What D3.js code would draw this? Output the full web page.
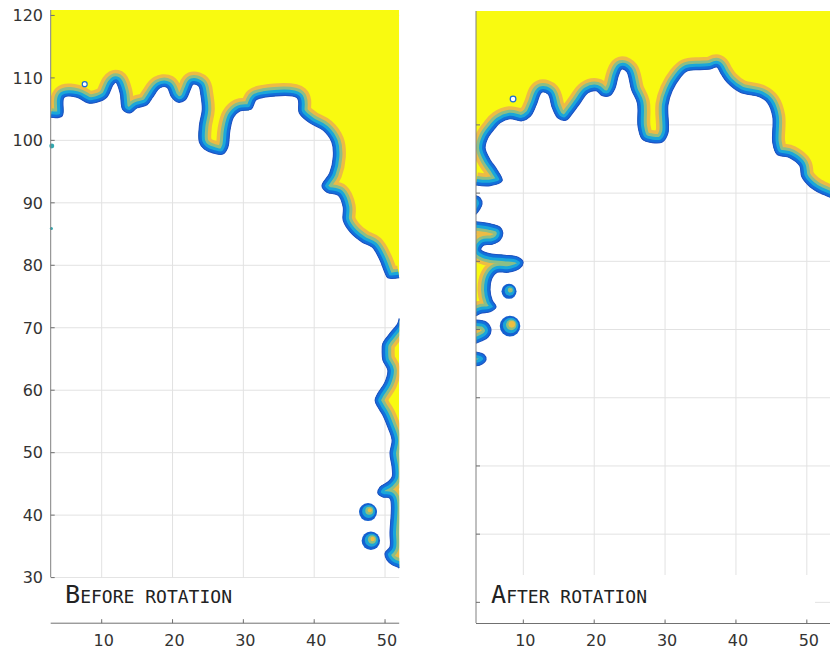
<!DOCTYPE html>
<html><head><meta charset="utf-8">
<script src="https://cdn.jsdelivr.net/npm/d3@7"></script>
<style>body{margin:0;background:#fff}svg{display:block}</style>
</head><body>
<svg id="c" width="830" height="649"></svg>
<script>
// ---------- data ----------
const xTicks = [10, 20, 30, 40, 50];
const leftYTicks = [30, 40, 50, 60, 70, 80, 90, 100, 110, 120];
const rightYTicks = [30, 40, 50, 60, 70, 80, 90, 100];
const panelLabels = ["Before rotation", "After rotation"];

// lower edge of the yellow region (left panel, before rotation)
const leftTop = [[2.8,103.7],[4.4,103.9],[4.7,106.9],[6.5,106.9],[8.1,106.0],[9.3,106.1],[10.7,106.9],[11.6,108.9],[12.0,109.3],[12.6,107.6],[13.0,104.9],[14.0,104.4],[15.0,105.2],[16.4,105.7],[17.2,106.9],[18.2,108.4],[19.2,108.5],[19.9,106.9],[20.8,106.1],[21.8,106.5],[22.5,108.1],[22.9,109.0],[23.7,108.7],[24.0,107.3],[24.2,104.9],[23.8,102.4],[23.8,99.7],[24.5,98.6],[25.7,98.0],[27.1,97.8],[27.8,98.9],[28.1,101.6],[28.6,103.7],[29.5,104.7],[31.1,105.0],[31.8,106.5],[32.9,106.9],[37.6,106.8],[37.9,104.4],[39.4,102.8],[41.3,101.6],[42.5,99.7],[42.7,97.4],[42.2,94.8],[41.1,92.7],[41.8,91.7],[43.4,91.2],[44.1,89.3],[44.1,87.2],[45.1,85.3],[46.8,83.7],[48.2,82.9],[49.3,80.8],[50.0,78.8],[50.4,78.0],[52.0,78.0]];
// strip on the right edge (left panel)
const leftSide = [[52.0,71.5],[51.8,70.7],[50.7,69.1],[49.7,67.5],[49.6,66.4],[49.7,64.8],[50.4,63.2],[50.0,61.3],[49.0,59.5],[48.6,58.4],[49.0,57.3],[49.7,56.0],[50.4,54.1],[51.0,52.0],[50.7,49.9],[51.0,47.7],[51.0,46.1],[50.4,45.3],[49.3,44.5],[49.0,43.5],[49.7,42.9],[50.7,42.7],[50.7,37.1],[50.7,34.9],[50.0,33.9],[50.3,32.8],[51.1,32.0],[51.8,31.7],[52.0,31.5]];
const leftDots = [[47.6,40.5,1.27],[48.0,35.9,1.3]];
const leftSpecks = [[2.95,99.1,0.35],[2.9,85.9,0.22]];
const leftHoles = [[7.6,109.0,0.35]];

// lower edge of the yellow region (right panel, after rotation)
const rightTop = [[3.32,91.2],[5.3,91.1],[7.0,91.8],[6.3,93.4],[5.3,94.9],[4.6,96.6],[5.0,98.1],[5.9,99.4],[6.7,100.3],[8.1,100.9],[9.8,100.6],[11.0,101.3],[11.8,102.9],[12.6,104.8],[13.5,104.5],[14.1,102.5],[14.9,101.0],[16.0,100.7],[17.0,101.8],[18.0,103.2],[19.1,104.7],[20.3,105.0],[21.1,104.3],[22.2,104.3],[22.9,105.3],[23.4,107.2],[23.9,108.2],[24.6,107.8],[25.3,105.1],[26.1,103.2],[26.2,99.7],[26.8,97.9],[28.2,97.4],[29.6,97.5],[30.4,98.8],[30.4,102.9],[31.0,105.0],[32.1,106.9],[33.1,107.9],[34.9,108.1],[36.4,108.2],[37.3,108.5],[37.9,107.5],[38.8,106.2],[40.6,104.8],[43.4,104.1],[44.5,103.2],[45.2,101.2],[45.2,97.4],[45.8,95.7],[47.6,95.2],[49.0,94.0],[49.3,92.4],[50.5,90.9],[51.9,90.0],[53.3,89.4]];
// blobs on the left edge (right panel)
const rightBlobA = [[3.32,89.6],[3.89,89.3],[4.17,88.4],[3.75,87.5],[3.32,86.9]];
const rightStrip = [[3.32,85.8],[5.3,85.5],[6.7,85.0],[7.1,84.2],[6.7,83.1],[5.6,82.5],[4.45,82.4],[4.0,81.7],[5.3,81.1],[7.4,80.9],[9.25,80.6],[9.96,79.9],[9.5,79.0],[7.84,78.4],[6.3,78.4],[5.6,77.6],[5.3,75.8],[5.6,74.3],[6.15,73.3],[5.3,72.6],[4.0,72.4],[3.32,72.0]];
const rightBlobB = [[3.32,71.4],[4.74,71.1],[5.44,69.9],[5.02,68.9],[4.03,68.3],[3.32,68.0]];
const rightBlobC = [[3.32,66.7],[4.45,66.3],[4.74,65.6],[3.89,64.8],[3.32,64.7]];
const rightDots = [[7.98,75.6,1.06],[8.12,70.5,1.45]];
const rightHoles = [[8.55,103.8,0.4]];

// ---------- drawing ----------
const svg = d3.select("#c");
const defs = svg.append("defs");
const YEL = "#F9FA10";
const bands = [
  {c:"#EDBB45", w:25},
  {c:"#8CBE86", w:18},
  {c:"#1AA7D9", w:12},
  {c:"#1270DB", w:6}
];
let clipN = 0;

const panels = [
  { x: d3.scaleLinear().domain([2.8, 52.0]).range([50.7, 399.2]),
    y: d3.scaleLinear().domain([22.7, 120.87]).range([623.2, 10]),
    yTicks: leftYTicks, yLabels: true, label: panelLabels[0],
    shapes: [ {pts: leftTop, type: "top"}, {pts: leftSide, type: "edge"} ],
    dots: leftDots, specks: leftSpecks, holes: leftHoles,
    box: [48, 578, 353, 43], labelX: 65, labelW: 167, axisBottom: 577 },
  { x: d3.scaleLinear().domain([3.32, 53.3]).range([476, 830.2]),
    y: d3.scaleLinear().domain([26.9, 116.7]).range([623.5, 11]),
    yTicks: rightYTicks, yLabels: false, label: panelLabels[1],
    shapes: [ {pts: rightTop, type: "top"}, {pts: rightBlobA, type: "edge"}, {pts: rightStrip, type: "edge"},
              {pts: rightBlobB, type: "edge"}, {pts: rightBlobC, type: "edge"} ],
    dots: rightDots, specks: [], holes: rightHoles,
    box: [478, 575, 337, 46], labelX: 491, labelW: 156, axisBottom: 623 }
];

panels.forEach(p => {
  const g = svg.append("g");
  const [x0, x1] = p.x.range();
  const [yb, yt] = p.y.range();
  // grid
  g.selectAll(".vg").data(xTicks).join("line")
    .attr("x1", d => p.x(d)).attr("x2", d => p.x(d))
    .attr("y1", yt).attr("y2", yb)
    .attr("stroke", "#E2E2E2").attr("stroke-width", 1);
  g.selectAll(".hg").data(p.yTicks.filter(d => p.y(d) > yt + 2)).join("line")
    .attr("x1", x0).attr("x2", x1)
    .attr("y1", d => p.y(d)).attr("y2", d => p.y(d))
    .attr("stroke", "#E2E2E2").attr("stroke-width", 1);

  const line = d3.line().x(d => p.x(d[0])).y(d => p.y(d[1])).curve(d3.curveCatmullRom.alpha(0.5));
  const domY = p.y.domain();

  p.shapes.forEach(s => {
    let closed = line(s.pts);
    if (s.type === "top") {
      const last = s.pts[s.pts.length - 1], first = s.pts[0];
      closed += "L" + p.x(last[0]) + "," + p.y(domY[1]) + "L" + p.x(first[0]) + "," + p.y(domY[1]) + "Z";
    } else {
      closed += "Z";
    }
    const id = "clip" + (clipN++);
    defs.append("clipPath").attr("id", id).append("path").attr("d", closed);
    const cg = g.append("g").attr("clip-path", "url(#" + id + ")");
    cg.append("path").attr("d", closed).attr("fill", YEL);
    bands.forEach(b => {
      cg.append("path").attr("d", line(s.pts)).attr("fill", "none")
        .attr("stroke", b.c).attr("stroke-width", b.w).attr("stroke-linejoin", "round");
    });
    g.append("path").attr("d", line(s.pts)).attr("fill", "none")
      .attr("stroke", "#1F52C4").attr("stroke-width", 1.1).attr("stroke-linecap", "butt");
  });

  const rpx = d => p.x(d[0] + d[2]) - p.x(d[0]);
  // dots
  p.dots.forEach(d => {
    const r = rpx(d);
    [["#1460D0", r], ["#1AA4D6", r - 2.5], ["#8CBF82", r - 5], ["#EEBE40", r - 7]].forEach(([c, rr]) => {
      if (rr > 0) g.append("circle").attr("cx", p.x(d[0]) + (r - rr) * 0.25).attr("cy", p.y(d[1]) - (r - rr) * 0.25)
        .attr("r", rr).attr("fill", c);
    });
  });
  p.specks.forEach(d => {
    g.append("circle").attr("cx", p.x(d[0])).attr("cy", p.y(d[1])).attr("r", rpx(d)).attr("fill", "#2FA8B0");
  });
  p.holes.forEach(d => {
    g.append("circle").attr("cx", p.x(d[0])).attr("cy", p.y(d[1])).attr("r", rpx(d))
      .attr("fill", "#fff").attr("stroke", "#1A6BD6").attr("stroke-width", 1.2);
  });

  // label box
  g.append("rect").attr("x", p.box[0]).attr("y", p.box[1]).attr("width", p.box[2]).attr("height", p.box[3]).attr("fill", "#fff");

  // axes
  g.append("line").attr("x1", x0).attr("x2", x0).attr("y1", yt).attr("y2", p.axisBottom)
    .attr("stroke", "#808080").attr("stroke-width", 1);
  g.append("line").attr("x1", x0).attr("x2", x1).attr("y1", yb).attr("y2", yb)
    .attr("stroke", "#707070").attr("stroke-width", 1);
  g.selectAll(".xt").data(xTicks).join("line")
    .attr("x1", d => p.x(d)).attr("x2", d => p.x(d)).attr("y1", yb).attr("y2", yb - 4)
    .attr("stroke", "#707070");
  g.selectAll(".yt").data(p.yTicks.filter(d => p.y(d) > yt + 2 && p.y(d) < p.axisBottom + 1)).join("line")
    .attr("x1", x0).attr("x2", x0 + 4).attr("y1", d => p.y(d)).attr("y2", d => p.y(d))
    .attr("stroke", "#707070");

  // tick labels
  g.selectAll(".xl").data(xTicks).join("text")
    .attr("x", d => p.x(d) + 2).attr("y", 646).attr("text-anchor", "middle")
    .attr("font-family", "DejaVu Sans").attr("font-size", 16).attr("fill", "#333")
    .text(d => d);
  if (p.yLabels) {
    g.selectAll(".yl").data(p.yTicks).join("text")
      .attr("x", 43).attr("y", d => p.y(d)).attr("dy", "0.36em").attr("text-anchor", "end")
      .attr("font-family", "DejaVu Sans").attr("font-size", 16).attr("fill", "#333")
      .text(d => d);
  }

  // panel label (small caps)
  const t = g.append("text").attr("x", p.labelX).attr("y", 603)
    .attr("font-family", "DejaVu Sans Mono").attr("fill", "#222")
    .attr("textLength", p.labelW).attr("lengthAdjust", "spacingAndGlyphs");
  t.append("tspan").attr("font-size", 24.5).text(p.label[0].toUpperCase());
  t.append("tspan").attr("font-size", 17.5).text(p.label.slice(1).toUpperCase());
});
</script>
</body></html>
